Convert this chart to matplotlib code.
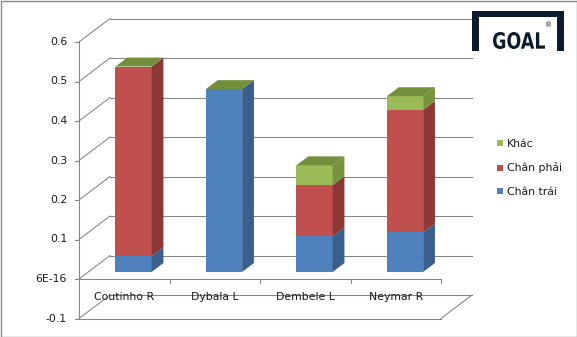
import matplotlib
matplotlib.use('Agg')
import matplotlib.pyplot as plt
from matplotlib.patches import Polygon, Rectangle, PathPatch
from matplotlib.lines import Line2D
from matplotlib.textpath import TextPath
from matplotlib.font_manager import FontProperties
from matplotlib.transforms import Affine2D

# ---------------- data ----------------
categories = ['Coutinho R', 'Dybala L', 'Dembele L', 'Neymar R']
chan_trai = [0.04, 0.463, 0.09, 0.10]
chan_phai = [0.48, 0.0, 0.13, 0.31]
khac = [0.0, 0.0, 0.05, 0.035]
series_names = ['Chân trái', 'Chân phải', 'Khác']
ytick_values = [-0.1, 0.0, 0.1, 0.2, 0.3, 0.4, 0.5, 0.6]
ytick_labels = ['-0.1', '6E-16', '0.1', '0.2', '0.3', '0.4', '0.5', '0.6']

# ---------------- styling / layout ----------------
W, H = 577, 337
CAT_PX, VAL_PX = 90.5, 395.0
X0PX, Y0PX = 79.0, 279.0
front_cols = ['#4F81BD', '#C0504D', '#9BBB59']
side_cols = ['#3A5F8C', '#8C3836', '#76933F']
top_col = '#72903C'
line_col = '#868686'
txt_col = '#1a1a1a'
FS = 7.8

fig = plt.figure(figsize=(W / 100, H / 100), dpi=100)
ax = fig.add_axes([0, 0, 1, 1])
ax.set_xlim(-0.5 - X0PX / CAT_PX, -0.5 + (W - X0PX) / CAT_PX)
ax.set_ylim((Y0PX - H) / VAL_PX, Y0PX / VAL_PX)
ax.axis('off')

DX = 31.0 / CAT_PX
DY = 23.5 / VAL_PX
px = 1.0 / CAT_PX
py = 1.0 / VAL_PX
n = len(categories)
xl, xr = -0.5, n - 0.5
lw = 0.75

# back wall gridlines and left wall diagonals
for v in ytick_values:
    if v >= 0:
        ax.plot([xl + DX, xr + DX], [v + DY, v + DY], color=line_col, lw=lw, zorder=1)
    ax.plot([xl, xl + DX], [v, v + DY], color=line_col, lw=lw, zorder=1)
# floor at minimum
vmin = ytick_values[0]
ax.plot([xl + DX, xr + DX], [vmin + DY, vmin + DY], color=line_col, lw=lw, zorder=1)
ax.plot([xl, xr], [vmin, vmin], color=line_col, lw=lw, zorder=1)
ax.plot([xr, xr + DX], [vmin, vmin + DY], color=line_col, lw=lw, zorder=1)
# front zero line with category ticks
ax.plot([xl, xr], [0, 0], color=line_col, lw=lw, zorder=1)
for i in range(n):
    ax.plot([i + 0.5, i + 0.5], [0, -4 * py], color=line_col, lw=lw, zorder=1)
# front vertical axis with ticks
ax.plot([xl, xl], [vmin, ytick_values[-1]], color=line_col, lw=lw, zorder=1)
for v, lab in zip(ytick_values, ytick_labels):
    ax.plot([xl - 4 * px, xl], [v, v], color=line_col, lw=lw, zorder=1)
    ax.text(xl - 12 * px, v, lab, ha='right', va='center', fontsize=FS, color=txt_col)

# category labels
for i, c in enumerate(categories):
    ax.text(i, -18 * py, c, ha='center', va='center', fontsize=FS, color=txt_col, zorder=5)

# bars
f0, fd, bw = 0.30, 0.38, 0.40
series = [chan_trai, chan_phai, khac]
for i in range(n):
    xc = i + f0 * DX
    yb = f0 * DY
    x0, x1 = xc - bw / 2, xc + bw / 2
    ddx, ddy = fd * DX, fd * DY
    base = 0.0
    for s, vals in enumerate(series):
        v = vals[i]
        if v <= 0:
            continue
        y0, y1 = yb + base, yb + base + v
        ax.add_patch(Polygon([(x0, y0), (x1, y0), (x1, y1), (x0, y1)], closed=True,
                             facecolor=front_cols[s], edgecolor='none', zorder=3))
        ax.add_patch(Polygon([(x1, y0), (x1 + ddx, y0 + ddy), (x1 + ddx, y1 + ddy), (x1, y1)],
                             closed=True, facecolor=side_cols[s], edgecolor='none', zorder=3))
        base += v
    yt = yb + base
    ax.add_patch(Polygon([(x0, yt), (x1, yt), (x1 + ddx, yt + ddy), (x0 + ddx, yt + ddy)],
                         closed=True, facecolor=top_col, edgecolor='none', zorder=3))

# legend
handles = [Line2D([], [], marker='s', ls='', markersize=4.6, markeredgewidth=0,
                  color=front_cols[s], label=series_names[s]) for s in [2, 1, 0]]
leg = ax.legend(handles=handles, loc='upper left', frameon=False, fontsize=FS,
                bbox_to_anchor=(496 / W, 1 - 139 / H), bbox_transform=fig.transFigure,
                borderpad=0, borderaxespad=0, handlelength=0.7, handletextpad=0.35,
                labelspacing=1.25)
for t in leg.get_texts():
    t.set_color(txt_col)


# GOAL logo (figure pixel coordinates)
def fx(x):
    return x / W


def fy(y):
    return 1 - y / H


navy = '#0C1B2C'
for (a, b, c, d) in [(472, 11, 564, 17), (472, 11, 479, 51), (557, 11, 564, 51)]:
    fig.add_artist(Rectangle((fx(a), fy(d)), (c - a) / W, (d - b) / H,
                             transform=fig.transFigure, facecolor=navy, edgecolor='none'))
tp = TextPath((0, 0), 'GOAL', size=10, prop=FontProperties(family='DejaVu Sans', weight='bold'))
ext = tp.get_extents()
bx0, bx1, by0, by1 = 493.0, 545.0, 32.0, 49.0
sx = (bx1 - bx0) / ext.width
sy = (by1 - by0) / ext.height
tr = (Affine2D().translate(-ext.x0, -ext.y0).scale(sx / W, sy / H)
      .translate(fx(bx0), fy(by1)) + fig.transFigure)
fig.add_artist(PathPatch(tp, transform=tr, facecolor=navy, edgecolor='none'))
fig.text(fx(549), fy(25), '®', ha='center', va='center', fontsize=5, color=navy)

# outer border
fig.add_artist(Rectangle((0.5 / W, 0.5 / H), (W - 1) / W, (H - 1) / H,
                         transform=fig.transFigure, facecolor='none',
                         edgecolor='#8a8a8a', lw=1.0))

fig.savefig('out.png', dpi=100)
